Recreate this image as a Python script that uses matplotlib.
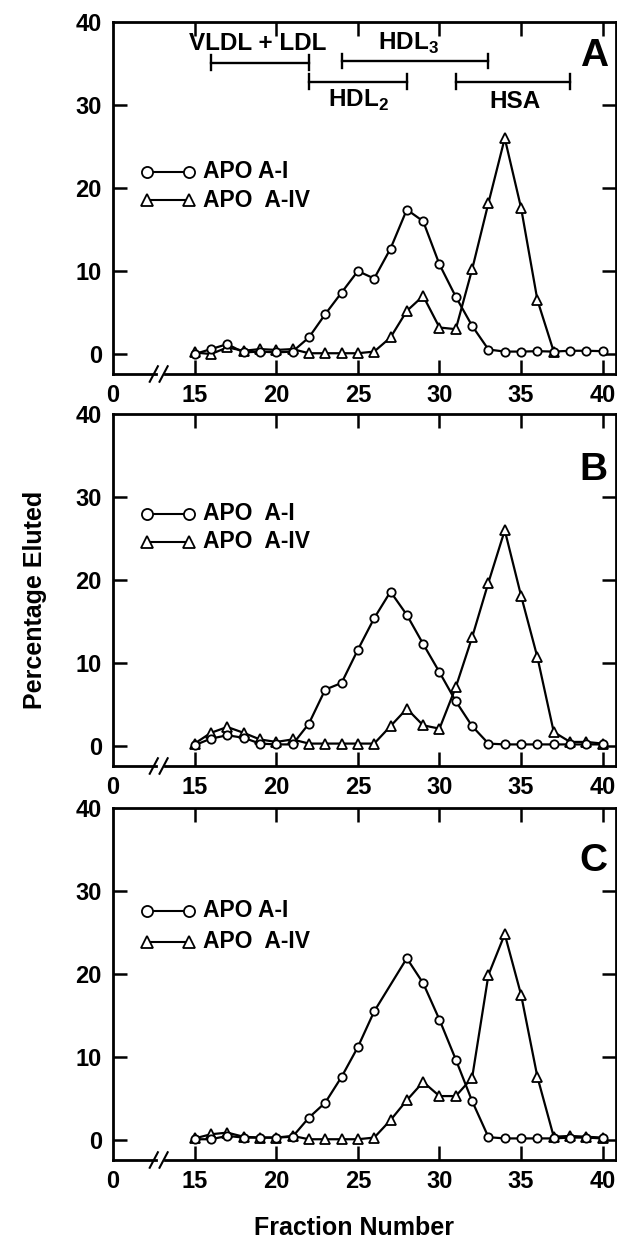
import matplotlib.pyplot as plt
import numpy as np

plt.rcParams['font.family'] = ['Liberation Sans', 'DejaVu Sans']
plt.rcParams['font.weight'] = 'bold'
plt.rcParams['mathtext.fontset'] = 'custom'
plt.rcParams['mathtext.rm'] = 'Liberation Sans:bold'
plt.rcParams['mathtext.bf'] = 'Liberation Sans:bold'

# fractions 15..40
fractions = list(range(15, 41))

# panel A
a_apoai = [0.0, 0.6, 1.2, 0.2, 0.3, 0.2, 0.3, 2.0, 4.8, 7.4, 10.0, 9.1, 12.7,
           17.4, 16.0, 10.8, 6.9, 3.4, 0.55, 0.3, 0.3, 0.35, 0.3, 0.4, 0.4, 0.35]
a_apoaiv_x = list(range(15, 38))
a_apoaiv = [0.2, 0.0, 0.8, 0.4, 0.6, 0.5, 0.6, 0.1, 0.1, 0.1, 0.1, 0.3, 2.0,
            5.2, 7.0, 3.2, 3.0, 10.2, 18.2, 26.0, 17.6, 6.5, 0.3]

# panel B
b_apoai = [0.1, 0.9, 1.3, 1.0, 0.3, 0.2, 0.2, 2.7, 6.8, 7.6, 11.6, 15.4, 18.6,
           15.8, 12.3, 8.9, 5.4, 2.4, 0.3, 0.2, 0.2, 0.2, 0.2, 0.2, 0.2, 0.2]
b_apoaiv = [0.3, 1.6, 2.3, 1.6, 0.8, 0.5, 0.8, 0.3, 0.3, 0.3, 0.3, 0.3, 2.4,
            4.5, 2.5, 2.1, 7.1, 13.1, 19.7, 26.0, 18.1, 10.7, 1.7, 0.5, 0.5, 0.3]

# panel C (no A-I point at fraction 27)
c_apoai_x = [15, 16, 17, 18, 19, 20, 21, 22, 23, 24, 25, 26,
             28, 29, 30, 31, 32, 33, 34, 35, 36, 37, 38, 39, 40]
c_apoai = [0.1, 0.1, 0.5, 0.3, 0.3, 0.3, 0.4, 2.7, 4.5, 7.6, 11.2, 15.5,
           21.9, 18.9, 14.5, 9.7, 4.7, 0.35, 0.2, 0.2, 0.2, 0.2, 0.3, 0.3, 0.2]
c_apoaiv = [0.2, 0.7, 0.9, 0.4, 0.3, 0.3, 0.5, 0.1, 0.1, 0.1, 0.1, 0.3, 2.4,
            4.8, 7.0, 5.3, 5.3, 7.5, 19.9, 24.8, 17.5, 7.6, 0.4, 0.5, 0.4, 0.3]

panels = [
    ('A', fractions, a_apoai, a_apoaiv_x, a_apoaiv, 'APO A-I', 'APO  A-IV'),
    ('B', fractions, b_apoai, fractions, b_apoaiv, 'APO  A-I', 'APO  A-IV'),
    ('C', c_apoai_x, c_apoai, fractions, c_apoaiv, 'APO A-I', 'APO  A-IV'),
]

# elution ranges shown in panel A
range_names = ['VLDL + LDL', 'HDL$_\\mathbf{3}$', 'HDL$_\\mathbf{2}$', 'HSA']
range_start = [16, 24, 22, 31]
range_end = [22, 33, 28, 38]

fig = plt.figure(figsize=(6.17, 12.47), dpi=100)

tops = [22, 414, 808]  # pixel rows of panel tops
letter_y = [35.9, 33.2, 33.6]
legend_y = [(0.575, 0.493), (0.717, 0.637), (0.708, 0.620)]

for i, (letter, x1, y1, x2, y2, lab1, lab2) in enumerate(panels):
    top = 1 - tops[i] / 1247
    h = 352 / 1247
    ax = fig.add_axes([113 / 617, top - h, 0.998 - 113 / 617, h])

    ax.plot(x2, y2, '-', color='black', lw=1.6, marker='^', ms=7,
            mfc='white', mec='black', mew=1.3, zorder=3)
    ax.plot(x1, y1, '-', color='black', lw=1.6, marker='o', ms=6,
            mfc='white', mec='black', mew=1.3, zorder=4)

    ax.set_xlim(10, 40.8)
    ax.set_ylim(-2.4, 40)
    ax.set_xticks([10, 15, 20, 25, 30, 35, 40])
    ax.set_xticklabels(['0', '15', '20', '25', '30', '35', '40'])
    ax.set_yticks([0, 10, 20, 30, 40])
    ax.tick_params(direction='in', length=10, width=1.8, labelsize=17,
                   top=True, right=True)
    ax.tick_params(axis='x', pad=7)
    ax.tick_params(axis='y', pad=8)
    ax.xaxis.get_major_ticks()[0].tick1line.set_visible(False)
    ax.xaxis.get_major_ticks()[0].tick2line.set_visible(False)
    ax.yaxis.get_major_ticks()[-1].tick1line.set_visible(False)
    ax.yaxis.get_major_ticks()[-1].tick2line.set_visible(False)
    for lbl in ax.get_xticklabels() + ax.get_yticklabels():
        lbl.set_fontweight('bold')

    for s in ['left', 'top', 'right']:
        ax.spines[s].set_linewidth(2.0)
    ax.spines['bottom'].set_visible(False)
    tr = ax.get_xaxis_transform()
    ax.plot([10, 12.65], [0, 0], color='black', lw=2.0, transform=tr, clip_on=False)
    ax.plot([13.2, 40.8], [0, 0], color='black', lw=2.0, transform=tr, clip_on=False)
    for bx in [12.5, 13.1]:
        ax.plot([bx - 0.25, bx + 0.25], [-0.022, 0.022], color='black', lw=1.5,
                transform=tr, clip_on=False)

    ax.text(39.45, letter_y[i], letter, fontsize=28, fontweight='bold',
            ha='center', va='center')

    # legend drawn by hand
    ly1, ly2 = legend_y[i]
    ax.plot([0.067, 0.151], [ly1, ly1], '-', color='black', lw=1.5, marker='o',
            ms=8, mfc='white', mec='black', mew=1.3, transform=ax.transAxes)
    ax.plot([0.067, 0.151], [ly2, ly2], '-', color='black', lw=1.5, marker='^',
            ms=8.5, mfc='white', mec='black', mew=1.3, transform=ax.transAxes)
    ax.text(0.179, ly1, lab1, transform=ax.transAxes, fontsize=16.5,
            fontweight='bold', va='center')
    ax.text(0.179, ly2, lab2, transform=ax.transAxes, fontsize=16.5,
            fontweight='bold', va='center')

    if letter == 'A':
        bar_y = [35.1, 35.3, 32.8, 32.8]
        text_pos = [(18.85, 36.6, 'center'), (26.25, 36.6, 'left'),
                    (23.2, 29.8, 'left'), (34.6, 29.7, 'center')]
        for name, s, e, by, (tx, ty, ha) in zip(range_names, range_start,
                                                range_end, bar_y, text_pos):
            ax.plot([s, e], [by, by], color='black', lw=1.7)
            ax.plot([s, s], [by - 0.9, by + 0.9], color='black', lw=1.7)
            ax.plot([e, e], [by - 0.9, by + 0.9], color='black', lw=1.7)
            ax.text(tx, ty, name, fontsize=17.5, fontweight='bold', ha=ha,
                    va='baseline')

fig.text(35 / 617, 1 - 600 / 1247, 'Percentage Eluted', rotation=90,
         fontsize=18, fontweight='bold', ha='center', va='center')
fig.text(354 / 617, 1 - 1228 / 1247, 'Fraction Number', fontsize=18,
         fontweight='bold', ha='center', va='center')

fig.savefig('out.png', dpi=100)
